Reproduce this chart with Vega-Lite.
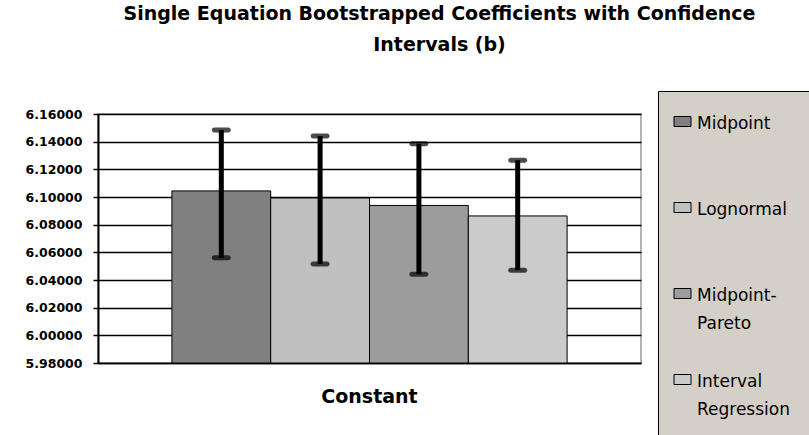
{
  "$schema": "https://vega.github.io/schema/vega-lite/v6.json",
  "autosize": "none",
  "width": 543,
  "height": 249,
  "padding": {"left": 98, "top": 114, "right": 168, "bottom": 72},
  "background": "white",
  "title": {
    "text": ["Single Equation Bootstrapped Coefficients with Confidence", "Intervals (b)"],
    "font": "DejaVu Sans",
    "fontSize": 19,
    "fontWeight": "bold",
    "color": "black",
    "anchor": "middle",
    "dx": 70,
    "lineHeight": 31,
    "offset": 36
  },
  "config": {
    "view": {"stroke": "#9a9a9a", "strokeWidth": 1.5},
    "axis": {"domainColor": "black", "tickColor": "black"},
    "style": {"guide-label": {"lineHeight": 28}}
  },
  "data": {
    "values": [
      {"cat": "Constant", "series": "Midpoint", "value": 6.1044, "lo": 6.0561, "hi": 6.1485},
      {"cat": "Constant", "series": "Lognormal", "value": 6.0993, "lo": 6.0515, "hi": 6.1441},
      {"cat": "Constant", "series": "Midpoint-Pareto", "value": 6.0939, "lo": 6.0441, "hi": 6.1385},
      {"cat": "Constant", "series": "Interval Regression", "value": 6.0863, "lo": 6.0471, "hi": 6.1266}
    ]
  },
  "encoding": {
    "x": {
      "field": "cat", "type": "nominal",
      "scale": {"paddingInner": 0, "paddingOuter": 0.187},
      "axis": {"title": null, "labelAngle": 0, "labelFont": "DejaVu Sans", "labelFontWeight": "bold", "labelFontSize": 19, "labelColor": "black", "labelPadding": 24, "ticks": false, "domainWidth": 1.5}
    },
    "xOffset": {
      "field": "series", "type": "nominal",
      "sort": ["Midpoint", "Lognormal", "Midpoint-Pareto", "Interval Regression"],
      "scale": {"paddingInner": 0, "paddingOuter": 0}
    }
  },
  "layer": [
    {
      "mark": {"type": "bar", "stroke": "black", "strokeWidth": 1},
      "encoding": {
        "y": {
          "field": "value", "type": "quantitative",
          "scale": {"domain": [5.98, 6.16], "zero": false, "nice": false},
          "axis": {
            "title": null,
            "values": [5.98, 6.0, 6.02, 6.04, 6.06, 6.08, 6.1, 6.12, 6.14, 6.16],
            "format": ".5f",
            "labelOverlap": false,
            "labelFont": "DejaVu Sans", "labelFontWeight": "bold", "labelFontSize": 12.5, "labelColor": "black",
            "grid": true, "gridColor": "black", "gridWidth": 1.5, "gridOpacity": 1,
            "domainWidth": 2, "tickSize": 5, "tickWidth": 1.5, "labelPadding": 11
          }
        },
        "y2": {"datum": 5.98},
        "fill": {
          "field": "series", "type": "nominal",
          "sort": ["Midpoint", "Lognormal", "Midpoint-Pareto", "Interval Regression"],
          "scale": {"range": ["#808080", "#c0c0c0", "#9c9c9c", "#cbcbcb"]},
          "legend": {
            "title": null,
            "orient": "none",
            "legendX": 560,
            "legendY": -23,
            "fillColor": "#d4d0c8",
            "strokeColor": "black",
            "padding": 16,
            "symbolType": "M-1.7,0.2H1.7V2.2H-1.7Z",
            "symbolSize": 100,
            "symbolStrokeColor": "black",
            "symbolStrokeWidth": 1,
            "labelFont": "DejaVu Sans",
            "labelFontSize": 17,
            "labelColor": "black",
            "labelLimit": 300,
            "labelOffset": 6,
            "labelBaseline": "top",
            "gridAlign": "all",
            "rowPadding": 5,
            "labelExpr": "datum.label == 'Midpoint-Pareto' ? ['Midpoint-', 'Pareto'] : datum.label == 'Interval Regression' ? ['Interval', 'Regression\u2800', ' '] : datum.label"
          }
        }
      }
    },
    {
      "mark": {"type": "rule", "color": "black", "strokeWidth": 5},
      "encoding": {
        "y": {"field": "lo", "type": "quantitative",
          "axis": {
            "title": null,
            "values": [5.98, 6.0, 6.02, 6.04, 6.06, 6.08, 6.1, 6.12, 6.14, 6.16],
            "format": ".5f",
            "labelOverlap": false,
            "labelFont": "DejaVu Sans", "labelFontWeight": "bold", "labelFontSize": 12.5, "labelColor": "black",
            "grid": true, "gridColor": "black", "gridWidth": 1.5, "gridOpacity": 1,
            "domainWidth": 2, "tickSize": 5, "tickWidth": 1.5, "labelPadding": 11
          }},
        "y2": {"field": "hi"}
      }
    },
    {
      "mark": {"type": "tick", "color": "black", "size": 19, "thickness": 5, "cornerRadius": 2.5},
      "encoding": {"y": {"field": "lo", "type": "quantitative",
          "axis": {
            "title": null,
            "values": [5.98, 6.0, 6.02, 6.04, 6.06, 6.08, 6.1, 6.12, 6.14, 6.16],
            "format": ".5f",
            "labelOverlap": false,
            "labelFont": "DejaVu Sans", "labelFontWeight": "bold", "labelFontSize": 12.5, "labelColor": "black",
            "grid": true, "gridColor": "black", "gridWidth": 1.5, "gridOpacity": 1,
            "domainWidth": 2, "tickSize": 5, "tickWidth": 1.5, "labelPadding": 11
          }}}
    },
    {
      "mark": {"type": "tick", "color": "black", "size": 19, "thickness": 5, "cornerRadius": 2.5},
      "encoding": {"y": {"field": "hi", "type": "quantitative",
          "axis": {
            "title": null,
            "values": [5.98, 6.0, 6.02, 6.04, 6.06, 6.08, 6.1, 6.12, 6.14, 6.16],
            "format": ".5f",
            "labelOverlap": false,
            "labelFont": "DejaVu Sans", "labelFontWeight": "bold", "labelFontSize": 12.5, "labelColor": "black",
            "grid": true, "gridColor": "black", "gridWidth": 1.5, "gridOpacity": 1,
            "domainWidth": 2, "tickSize": 5, "tickWidth": 1.5, "labelPadding": 11
          }}}
    }
  ]
}
